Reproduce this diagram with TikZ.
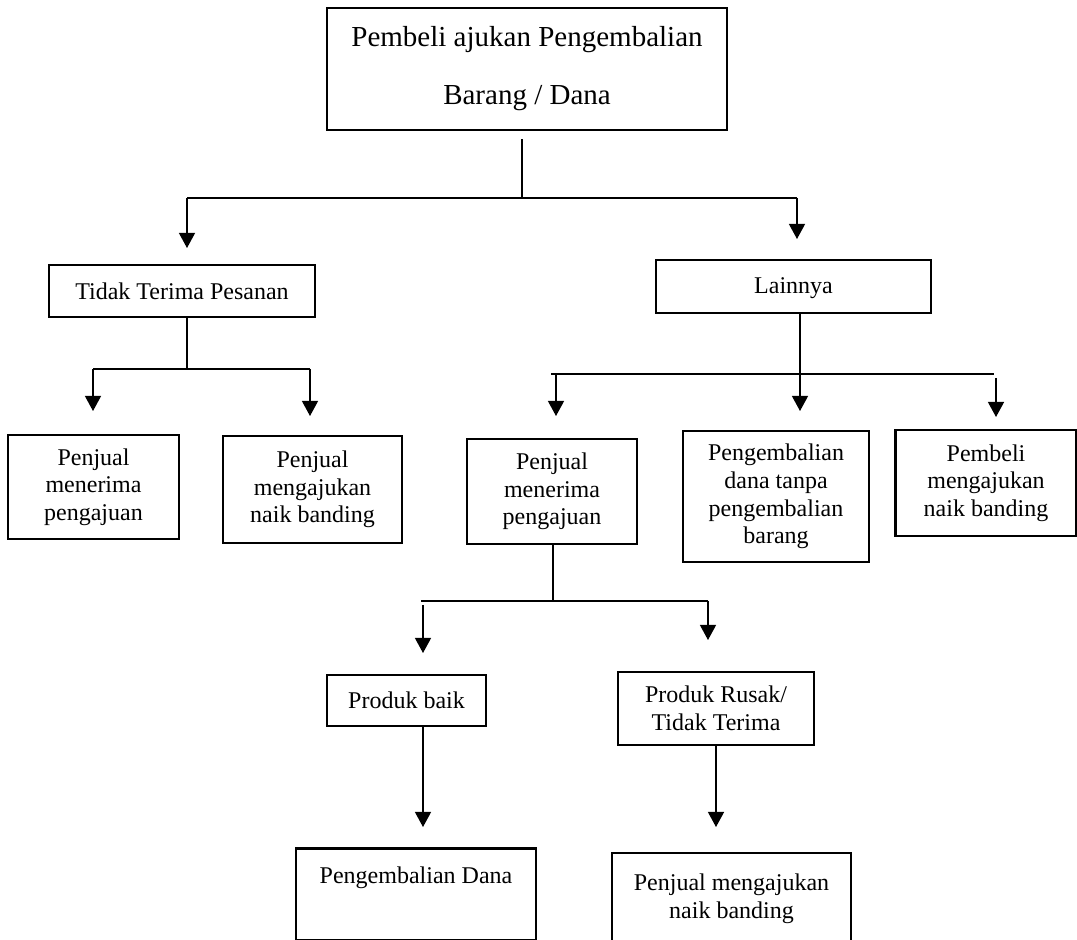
\documentclass[tikz,border=0pt]{standalone}
\usepackage{fontspec}
\setmainfont{Liberation Serif}
\usetikzlibrary{arrows.meta}
\begin{document}
\begin{tikzpicture}[x=0.5pt,y=-0.5pt,
  box/.style={draw, line width=1.4pt, align=center, inner sep=2pt, font=\fontsize{12}{13.8}\selectfont},
  ln/.style={line width=0.6pt},
  arr/.style={line width=0.6pt, -{Triangle[width=8pt,length=7.5pt]}}]
\useasboundingbox (0,0) rectangle (1077,940);
\clip (0,0) rectangle (1077,940);
% boxes
\node[box, minimum width=200pt, minimum height=61pt, font=\fontsize{14.5}{29}\selectfont] (top) at (527,69) {Pembeli ajukan Pengembalian\\Barang / Dana};
\node[box, minimum width=133pt, minimum height=26pt] (tidak) at (182,291) {Tidak Terima Pesanan};
\node[box, minimum width=137.5pt, minimum height=26.5pt, text height=8.5pt, text depth=1pt] (lain) at (793.5,286.5) {Lainnya};
\node[box, minimum width=85.5pt, minimum height=52pt] (pm1) at (93.5,487) {Penjual\\menerima\\pengajuan};
\node[box, minimum width=89.5pt, minimum height=53.5pt] (pn1) at (312.5,489.5) {Penjual\\mengajukan\\naik banding};
\node[box, minimum width=85pt, minimum height=52.5pt] (pm2) at (552,491.5) {Penjual\\menerima\\pengajuan};
\node[box, minimum width=93pt, minimum height=65.5pt] (pd) at (776,496.5) {Pengembalian\\dana tanpa\\pengembalian\\barang};
\node[box, minimum width=90.5pt, minimum height=53pt] (pbn) at (986,483) {Pembeli\\mengajukan\\naik banding};
\node[box, minimum width=79.5pt, minimum height=25.5pt] (baik) at (406.5,700.5) {Produk baik};
\node[box, minimum width=98pt, minimum height=36.5pt] (rusak) at (716,708.5) {Produk Rusak/\\Tidak Terima};
\node[box, minimum width=120pt, text height=17.5pt, text depth=28.5pt, inner ysep=0pt, anchor=north] (dana) at (416,847) {Pengembalian Dana};
\node[box, minimum width=119.5pt, minimum height=46pt] (banding) at (731.5,899) {Penjual mengajukan\\naik banding};
% level 1
\coordinate (j0) at (522,198);
\coordinate (jL) at (187,198);
\coordinate (jR) at (797,198);
\coordinate (aL) at (187,248);
\coordinate (aR) at (797,239);
\draw[ln] ([yshift=-4pt]top.south -| j0) -- (j0);
\draw[ln] (jL) -- (jR);
\draw[arr] (jL) -- (aL);
\draw[arr] (jR) -- (aR);
% Tidak Terima Pesanan branch
\coordinate (t0) at (187,369);
\coordinate (tL) at (93,369);
\coordinate (tR) at (310,369);
\coordinate (tLa) at (93,411);
\coordinate (tRa) at (310,416);
\draw[ln] (tidak.south -| t0) -- (t0);
\draw[ln] (tL) -- (tR);
\draw[arr] (tL) -- (tLa);
\draw[arr] (tR) -- (tRa);
% Lainnya branch
\coordinate (l0) at (800,374);
\coordinate (lL) at (551,374);
\coordinate (lR) at (994,374);
\coordinate (l1s) at (556,374);
\coordinate (l1a) at (556,416);
\coordinate (l2a) at (800,411);
\coordinate (l3s) at (996,378);
\coordinate (l3a) at (996,417);
\draw[ln] (lain.south -| l0) -- (l0);
\draw[ln] (lL) -- (lR);
\draw[arr] (l1s) -- (l1a);
\draw[arr] (l0) -- (l2a);
\draw[arr] (l3s) -- (l3a);
% Penjual menerima pengajuan branch
\coordinate (m0) at (553,601);
\coordinate (mL) at (421,601);
\coordinate (mR) at (708,601);
\coordinate (mLs) at (423,605);
\coordinate (mLa) at (423,653);
\coordinate (mRa) at (708,640);
\draw[ln] (pm2.south -| m0) -- (m0);
\draw[ln] (mL) -- (mR);
\draw[arr] (mLs) -- (mLa);
\draw[arr] (mR) -- (mRa);
% last level
\coordinate (bx) at (423,827);
\coordinate (rx) at (716,827);
\draw[arr] (baik.south -| bx) -- (bx);
\draw[arr] (rusak.south -| rx) -- (rx);
\end{tikzpicture}
\end{document}
